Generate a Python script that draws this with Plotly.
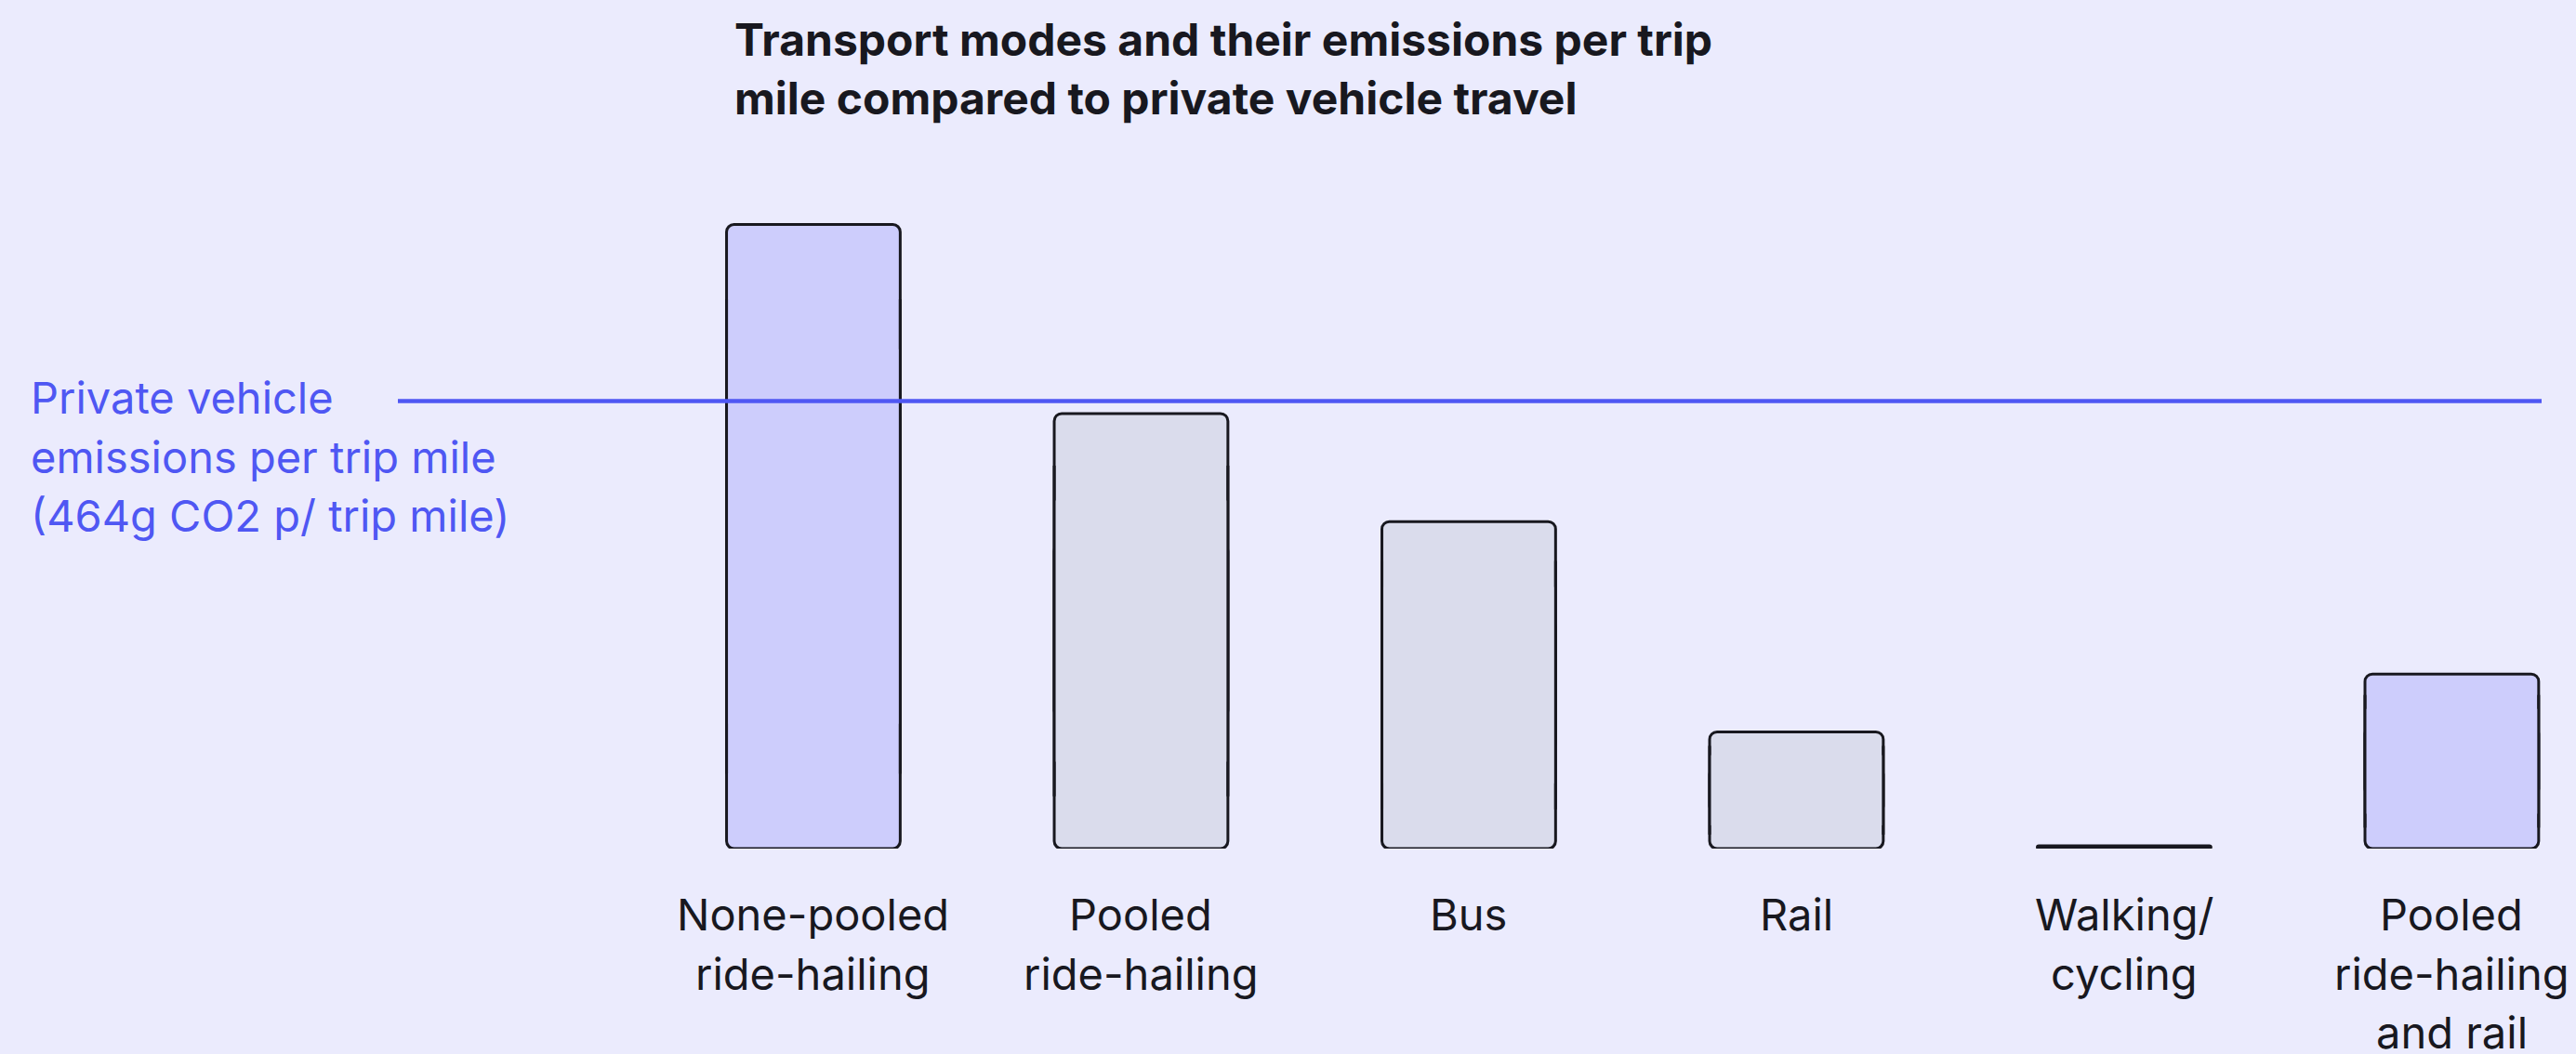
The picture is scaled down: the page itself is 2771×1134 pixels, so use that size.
import plotly.graph_objects as go

# ---------------- data ----------------
categories = [
    "None-pooled\nride-hailing",
    "Pooled\nride-hailing",
    "Bus",
    "Rail",
    "Walking/\ncycling",
    "Pooled\nride-hailing\nand rail",
]
emissions = [647, 451, 339, 121, 0, 181]          # g CO2 per trip mile
highlight = [True, False, False, False, False, True]
private_vehicle = 464                              # g CO2 per trip mile
title_lines = [
    "Transport modes and their emissions per trip",
    "mile compared to private vehicle travel",
]
reference_label_lines = [
    "Private vehicle",
    "emissions per trip mile",
    "(464g CO2 p/ trip mile)",
]

# ---------------- style ----------------
BG = "#EBEBFD"
HI = "#CDCDFC"
GRAY = "#DADCEC"
BLUE = "#4F57F3"
INK = "#18181F"
FONT = "Inter"
BAR_W = 0.53
STROKE = 3
RADIUS = 8
MIN_VIS = 3            # so a zero bar still shows as a flat dark bar
LABEL_SIZE = 47
TITLE_SIZE = 48
LINE_GAP = 63.6

xs = list(range(len(categories)))
shown = [max(v, MIN_VIS) for v in emissions]
fills = [HI if h else GRAY for h in highlight]
real = [v > 0 for v in emissions]
outline = dict(color=INK, width=STROKE)

fig = go.Figure()
# lower piece: rounded at the bottom (zero bars: only this piece, filled dark)
fig.add_trace(go.Bar(
    x=xs, y=[-s * 0.7 if r else -s for s, r in zip(shown, real)],
    base=[s * 0.7 if r else s for s, r in zip(shown, real)], width=BAR_W,
    marker=dict(color=[f if r else INK for f, r in zip(fills, real)],
                line=outline, cornerradius=RADIUS),
    customdata=emissions, hovertemplate="%{customdata} g<extra></extra>",
))
# upper piece: rounded at the top
fig.add_trace(go.Bar(
    x=xs, y=[s * 0.7 if r else None for s, r in zip(shown, real)],
    base=[s * 0.3 for s in shown], width=BAR_W,
    marker=dict(color=fills, line=outline, cornerradius=RADIUS),
    hoverinfo="skip",
))
# fill hiding the two inner horizontal seams
fig.add_trace(go.Bar(
    x=xs, y=[s * 0.6 if r else None for s, r in zip(shown, real)],
    base=[s * 0.2 for s in shown], width=BAR_W,
    marker=dict(color=fills, line=dict(width=0)),
    hoverinfo="skip",
))
# redraw the straight sides over the hidden region
side_x, side_y = [], []
for x, s, r in zip(xs, shown, real):
    if not r:
        continue
    for dx in (-BAR_W / 2, BAR_W / 2):
        side_x += [x + dx, x + dx, None]
        side_y += [s * 0.12, s * 0.88, None]
fig.add_trace(go.Scatter(
    x=side_x, y=side_y, mode="lines",
    line=dict(color=INK, width=STROKE), hoverinfo="skip",
))

fig.add_shape(
    type="line", xref="x domain", x0=0, x1=1, yref="y",
    y0=private_vehicle, y1=private_vehicle,
    line=dict(color=BLUE, width=4.5), layer="above",
)

annotations = []
for x, label in zip(xs, categories):
    for i, line in enumerate(label.split("\n")):
        annotations.append(dict(
            x=x, xref="x", y=0, yref="paper", yanchor="middle", xanchor="center",
            yshift=-70.7 - i * LINE_GAP, text=line, showarrow=False,
            font=dict(family=FONT, size=LABEL_SIZE, color=INK),
        ))
for i, line in enumerate(reference_label_lines):
    annotations.append(dict(
        x=0, xref="paper", xshift=-397, xanchor="left",
        y=private_vehicle, yref="y", yanchor="middle", yshift=3.7 - i * LINE_GAP,
        text=line, showarrow=False,
        font=dict(family=FONT, size=LABEL_SIZE, color=BLUE),
    ))
for i, line in enumerate(title_lines):
    annotations.append(dict(
        x=0.156, xref="paper", xanchor="left",
        y=1, yref="paper", yanchor="middle", yshift=145 - i * LINE_GAP,
        text="<b>" + line + "</b>", showarrow=False,
        font=dict(family=FONT, size=TITLE_SIZE, color=INK),
    ))

fig.update_layout(
    width=2771, height=1134,
    margin=dict(l=428, r=37, t=187, b=221, pad=0),
    paper_bgcolor=BG, plot_bgcolor=BG,
    barmode="overlay", showlegend=False,
    font=dict(family=FONT),
    xaxis=dict(range=[-1.268, 5.274], visible=False, fixedrange=True),
    yaxis=dict(range=[0, 699.5], visible=False, fixedrange=True),
    annotations=annotations,
)

fig.write_html(
    "out.html",
    config={"displayModeBar": False},
    post_script="document.body.style.margin='0';",
)
